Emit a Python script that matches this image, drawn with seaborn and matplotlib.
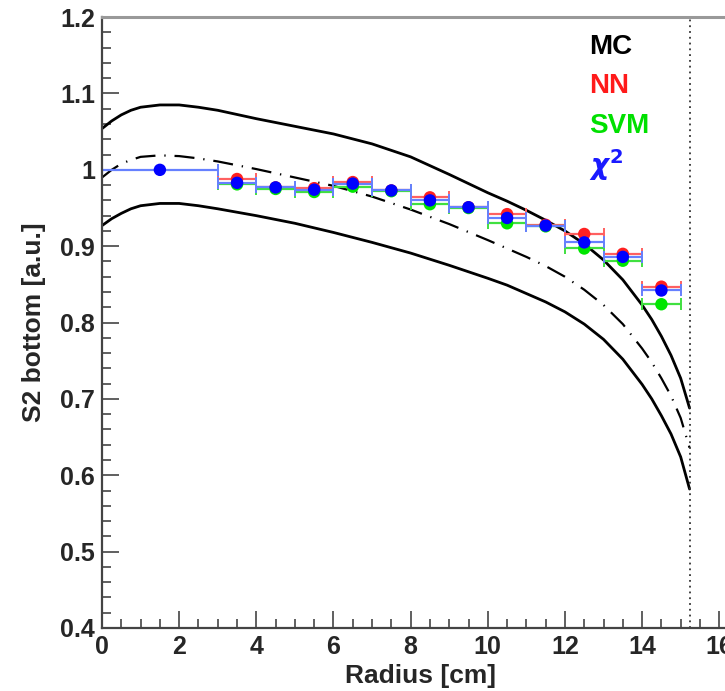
import matplotlib
matplotlib.use('Agg')
import numpy as np
import pandas as pd
import matplotlib.pyplot as plt
import seaborn as sns

# Curvas MC (media e banda)
radius_curve = [0, 0.25, 0.5, 0.75, 1, 1.5, 2, 2.5, 3, 4, 5, 6, 7, 8, 9, 10, 10.5, 11,
                11.5, 12, 12.5, 13, 13.5, 14, 14.25, 14.5, 14.75, 15, 15.23]
mc_upper = [1.054, 1.064, 1.072, 1.078, 1.082, 1.085, 1.085, 1.082, 1.078, 1.067, 1.057,
            1.047, 1.034, 1.017, 0.994, 0.970, 0.959, 0.947, 0.934, 0.920, 0.903, 0.882,
            0.856, 0.823, 0.804, 0.782, 0.757, 0.727, 0.688]
mc_mean = [0.990, 1.000, 1.008, 1.013, 1.017, 1.019, 1.018, 1.015, 1.011, 1.001, 0.990,
           0.979, 0.965, 0.948, 0.929, 0.908, 0.897, 0.886, 0.874, 0.860, 0.843, 0.823,
           0.798, 0.766, 0.748, 0.727, 0.704, 0.675, 0.636]
mc_lower = [0.927, 0.936, 0.943, 0.949, 0.953, 0.956, 0.956, 0.953, 0.949, 0.940, 0.930,
            0.918, 0.905, 0.891, 0.875, 0.858, 0.849, 0.838, 0.827, 0.814, 0.798, 0.778,
            0.752, 0.719, 0.700, 0.678, 0.654, 0.624, 0.582]

# Reconstrucoes (bins)
chi2_edges = [0, 3, 4, 5, 6, 7, 8, 9, 10, 11, 12, 13, 14, 15]
chi2_vals = [1.000, 0.983, 0.977, 0.974, 0.982, 0.973, 0.960, 0.951, 0.937, 0.927, 0.905,
             0.886, 0.842]
nn_edges = [3, 4, 5, 6, 7, 8, 9, 10, 11, 12, 13, 14, 15]
nn_vals = [0.988, 0.977, 0.976, 0.984, 0.973, 0.964, 0.951, 0.942, 0.928, 0.916, 0.890,
           0.847]
svm_vals = [0.981, 0.975, 0.971, 0.978, 0.972, 0.955, 0.950, 0.930, 0.926, 0.897, 0.881,
            0.824]

legend_labels = ['MC', 'NN', 'SVM', r'$\chi^2$']
legend_colors = ['black', '#ff1a1a', '#00e000', '#1a1aff']

sns.set_style('ticks')
plt.rcParams['font.family'] = ['Liberation Sans', 'DejaVu Sans']
plt.rcParams['font.weight'] = 'bold'
plt.rcParams['mathtext.fontset'] = 'dejavusans'

fig = plt.figure(figsize=(7.25, 6.91), dpi=100)
ax = fig.add_axes([0.1407, 0.0912, 0.878, 0.884])

df = pd.DataFrame({'r': radius_curve, 'up': mc_upper, 'mean': mc_mean, 'low': mc_lower})
sns.lineplot(data=df, x='r', y='up', color='black', lw=2.0, ax=ax)
sns.lineplot(data=df, x='r', y='low', color='black', lw=2.0, ax=ax)
sns.lineplot(data=df, x='r', y='mean', color='black', lw=1.6, ax=ax)
ax.lines[-1].set_linestyle((0, (9, 4, 0.6, 4)))

ax.axvline(15.23, color='#333333', ls=(0, (1, 2.2)), lw=1.3)


def draw_bins(edges, vals, color, barcolor):
    edges = np.array(edges, dtype=float)
    centers = (edges[:-1] + edges[1:]) / 2
    half = (edges[1:] - edges[:-1]) / 2
    ax.errorbar(centers, vals, xerr=half, fmt='none', ecolor=barcolor, elinewidth=1.6,
                capsize=4, capthick=1.4)
    sns.scatterplot(x=centers, y=vals, color=color, s=80, edgecolor='none', ax=ax, zorder=5)


draw_bins(nn_edges, nn_vals, '#ff2020', '#ff6060')
draw_bins(nn_edges, svm_vals, '#00e600', '#40e040')
draw_bins(chi2_edges, chi2_vals, '#0000ff', '#6680ff')

# legenda de texto colorido
for i, (lab, col) in enumerate(zip(legend_labels, legend_colors)):
    ax.text(12.62, 1.161 - i * 0.0515, lab, color=col, fontsize=20, fontweight='bold',
            va='center', ha='left')

ax.set_xlim(0, 16.5)
ax.set_ylim(0.4, 1.2)
ax.set_xticks(np.arange(0, 17, 2))
ax.set_xticks(np.arange(0, 16.6, 0.5), minor=True)
ax.set_yticks(np.arange(0.4, 1.21, 0.1))
ax.set_yticks(np.arange(0.4, 1.201, 0.02), minor=True)
ax.set_yticklabels(['0.4', '0.5', '0.6', '0.7', '0.8', '0.9', '1', '1.1', '1.2'])
ax.tick_params(axis='both', which='major', direction='in', length=12.5, width=1.2,
               color='#444444', labelsize=18, pad=5)
ax.tick_params(axis='both', which='minor', direction='in', length=6.5, width=1.2,
               color='#444444')
for lab in ax.get_xticklabels() + ax.get_yticklabels():
    lab.set_fontweight('bold')

ax.set_xlabel('Radius [cm]', fontsize=19, fontweight='bold', labelpad=4)
ax.set_ylabel('S2 bottom [a.u.]', fontsize=19, fontweight='bold', labelpad=10)

ax.spines['right'].set_visible(False)
for s in ['left', 'bottom']:
    ax.spines[s].set_color('#444444')
    ax.spines[s].set_linewidth(1.6)
ax.spines['top'].set_color('#999999')
ax.spines['top'].set_linewidth(2.2)

fig.savefig('out.png', dpi=100)
